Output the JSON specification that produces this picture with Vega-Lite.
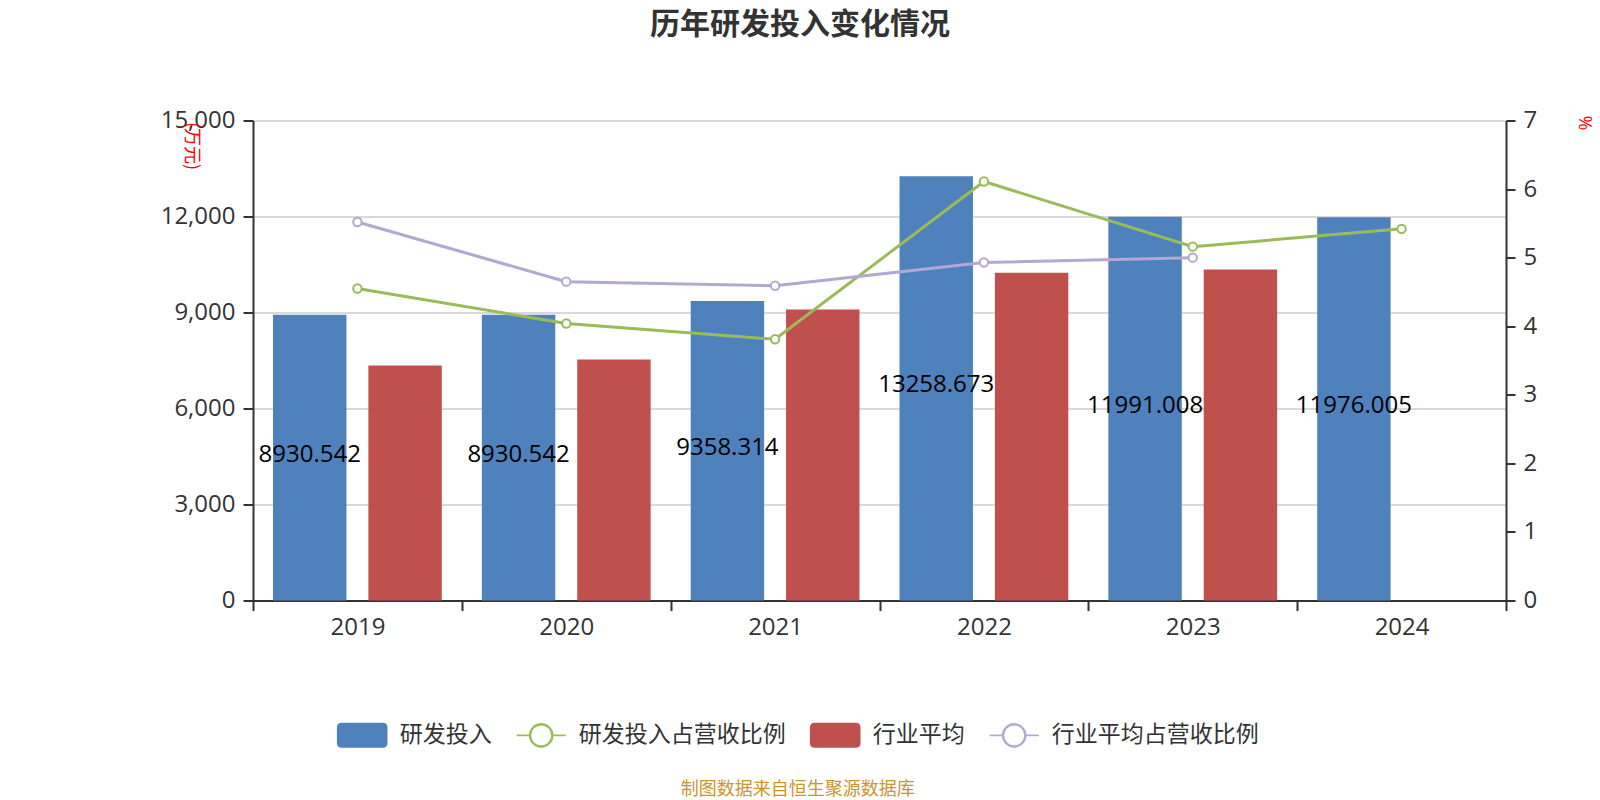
{
  "$schema": "https://vega.github.io/schema/vega-lite/v6.json",
  "width": 1253,
  "height": 480,
  "autosize": {"type": "none"},
  "padding": {"left": 253, "top": 120.5, "right": 94, "bottom": 199.5},
  "background": "#ffffff",
  "title": {
    "text": "历年研发投入变化情况",
    "anchor": "middle",
    "frame": "group",
    "dx": -79.5,
    "offset": 69,
    "fontSize": 30,
    "fontWeight": "bold",
    "color": "#333333",
    "font": "Noto Sans CJK SC"
  },
  "config": {
    "view": {"stroke": null},
    "font": "Open Sans"
  },
  "data": {
    "values": [
      {"year": "2019", "series": "研发投入", "value": 8930.542},
      {"year": "2020", "series": "研发投入", "value": 8930.542},
      {"year": "2021", "series": "研发投入", "value": 9358.314},
      {"year": "2022", "series": "研发投入", "value": 13258.673},
      {"year": "2023", "series": "研发投入", "value": 11991.008},
      {"year": "2024", "series": "研发投入", "value": 11976.005},
      {"year": "2019", "series": "行业平均", "value": 7340},
      {"year": "2020", "series": "行业平均", "value": 7532},
      {"year": "2021", "series": "行业平均", "value": 9096},
      {"year": "2022", "series": "行业平均", "value": 10245},
      {"year": "2023", "series": "行业平均", "value": 10340},
      {"year": "2019", "series": "研发投入占营收比例", "value": 4.55},
      {"year": "2020", "series": "研发投入占营收比例", "value": 4.04},
      {"year": "2021", "series": "研发投入占营收比例", "value": 3.81},
      {"year": "2022", "series": "研发投入占营收比例", "value": 6.11},
      {"year": "2023", "series": "研发投入占营收比例", "value": 5.16},
      {"year": "2024", "series": "研发投入占营收比例", "value": 5.42},
      {"year": "2019", "series": "行业平均占营收比例", "value": 5.52},
      {"year": "2020", "series": "行业平均占营收比例", "value": 4.65},
      {"year": "2021", "series": "行业平均占营收比例", "value": 4.59},
      {"year": "2022", "series": "行业平均占营收比例", "value": 4.93},
      {"year": "2023", "series": "行业平均占营收比例", "value": 5.0}
    ]
  },
  "layer": [
    {
      "transform": [{"filter": {"field": "series", "oneOf": ["研发投入", "行业平均"]}}],
      "mark": {"type": "bar"},
      "encoding": {
        "x": {
          "field": "year", "type": "nominal",
          "scale": {"paddingInner": 0, "paddingOuter": 0},
          "axis": {
            "title": null, "labelAngle": 0, "labelFontSize": 24, "labelColor": "#333333",
            "labelPadding": 5, "tickBand": "extent", "tickSize": 10, "tickColor": "#333333",
            "tickWidth": 2, "domainColor": "#333333", "domainWidth": 2, "grid": false
          }
        },
        "xOffset": {
          "field": "series", "type": "nominal",
          "scale": {"domain": ["研发投入", "行业平均"], "paddingInner": 0.23, "paddingOuter": 0.21}
        },
        "y": {
          "field": "value", "type": "quantitative",
          "scale": {"domain": [0, 15000]},
          "axis": {
            "orient": "left", "values": [0, 3000, 6000, 9000, 12000, 15000], "format": ",.0f",
            "grid": true, "gridColor": "#cccccc", "gridWidth": 1.5,
            "domainColor": "#333333", "domainWidth": 2, "tickColor": "#333333", "tickWidth": 2, "tickSize": 10,
            "labelFontSize": 24, "labelColor": "#333333", "labelPadding": 8,
            "title": "(万元)", "titleColor": "#ff0000", "titleFontSize": 18, "titleFontWeight": "normal",
            "titleFont": "Noto Sans CJK SC", "titleAngle": 90, "titleX": -63, "titleY": 1,
            "titleAlign": "left", "titleBaseline": "middle"
          }
        },
        "color": {
          "field": "series", "type": "nominal",
          "scale": {
            "domain": ["研发投入", "研发投入占营收比例", "行业平均", "行业平均占营收比例"],
            "range": ["#4F81BD", "#9BBB59", "#C0504D", "#B4A7D0"]
          },
          "legend": {
            "orient": "none", "legendX": 83.7, "legendY": 589,
            "direction": "horizontal", "columns": 4,
            "title": "制图数据来自恒生聚源数据库", "titleOrient": "bottom", "titleAnchor": "middle",
            "titleFontSize": 18, "titleColor": "#C9962A", "titleFontWeight": "normal",
            "titleFont": "Noto Sans CJK SC", "titlePadding": 30, "titleLimit": 0,
            "labelFontSize": 23, "labelColor": "#333333", "labelFont": "Noto Sans CJK SC",
            "labelOffset": 12, "labelLimit": 0, "columnPadding": 21,
            "symbolSize": 2401, "symbolStrokeWidth": 1.6,
            "encode": {
              "symbols": {
                "update": {
                  "shape": {"signal": "(datum.value === '研发投入' || datum.value === '行业平均') ? 'M-0.84,-0.48H0.84Q1,-0.48,1,-0.32V0.32Q1,0.48,0.84,0.48H-0.84Q-1,0.48,-1,0.32V-0.32Q-1,-0.48,-0.84,-0.48Z' : 'M-1,0H-0.47M0.47,0A0.47,0.47,0,1,1,-0.47,0A0.47,0.47,0,1,1,0.47,0ZM0.44,0A0.44,0.44,0,1,0,-0.44,0A0.44,0.44,0,1,0,0.44,0ZM0.47,0H1'"},
                  "stroke": {"signal": "datum.value === '研发投入占营收比例' ? '#9BBB59' : datum.value === '行业平均占营收比例' ? '#B4A7D0' : 'transparent'"},
                  "strokeWidth": {"value": 1.6},
                  "opacity": {"value": 1},
                  "fillOpacity": {"value": 1},
                  "strokeOpacity": {"value": 1}
                }
              }
            }
          }
        }
      }
    },
    {
      "transform": [{"filter": {"field": "series", "equal": "研发投入"}}],
      "mark": {"type": "text", "fontSize": 24, "color": "#000000", "baseline": "middle", "align": "center", "dy": -3},
      "encoding": {
        "x": {"field": "year", "type": "nominal"},
        "xOffset": {"field": "series", "type": "nominal", "scale": {"domain": ["研发投入", "行业平均"], "paddingInner": 0.23, "paddingOuter": 0.21}},
        "y": {"field": "value", "type": "quantitative", "scale": {"domain": [0, 30000]}, "axis": null},
        "text": {"field": "value", "type": "nominal"}
      }
    },
    {
      "transform": [{"filter": {"field": "series", "oneOf": ["研发投入占营收比例", "行业平均占营收比例"]}}],
      "mark": {
        "type": "line", "strokeWidth": 3,
        "point": {"filled": false, "fill": "#ffffff", "size": 70, "strokeWidth": 2}
      },
      "encoding": {
        "x": {"field": "year", "type": "nominal"},
        "y": {
          "field": "value", "type": "quantitative",
          "scale": {"domain": [0, 7]},
          "axis": {
            "orient": "right", "values": [0, 1, 2, 3, 4, 5, 6, 7], "grid": false,
            "domainColor": "#333333", "domainWidth": 2, "tickColor": "#333333", "tickWidth": 2, "tickSize": 9,
            "labelFontSize": 24, "labelColor": "#333333", "labelPadding": 8,
            "title": "%", "titleColor": "#ff0000", "titleFontSize": 18, "titleFontWeight": "normal",
            "titleAngle": 90, "titleX": 77, "titleY": 2, "titleAlign": "center", "titleBaseline": "middle"
          }
        },
        "color": {"field": "series", "type": "nominal"}
      }
    }
  ],
  "resolve": {"scale": {"y": "independent"}}
}
